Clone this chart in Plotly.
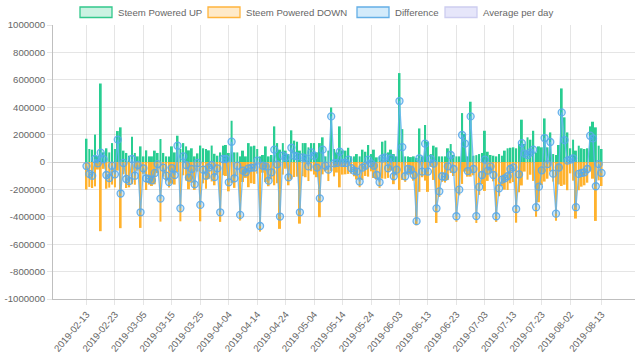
import pandas as pd
import plotly.graph_objects as go

start_date = "2019-02-13"
n_days = 182
dates = [d.strftime("%Y-%m-%d") for d in pd.date_range(start_date, periods=n_days, freq="D")]

steem_up = [
    170000, 95000, 90000, 200000, 45000, 573000, 70000, 100000, 70000, 138000,
    95000, 226000, 253000, 83000, 66000, 46000, 185000, 66000, 41000, 114000,
    41000, 85000, 41000, 41000, 83000, 66000, 168000, 66000, 41000, 41000,
    114000, 70000, 192000, 95000, 138000, 114000, 85000, 100000, 41000, 63000,
    120000, 100000, 95000, 85000, 120000, 60000, 46000, 70000, 119000, 124000,
    66000, 301000, 70000, 70000, 41000, 83000, 41000, 138000, 114000, 119000,
    95000, 41000, 51000, 114000, 41000, 51000, 260000, 138000, 90000, 138000,
    83000, 58000, 231000, 156000, 148000, 83000, 138000, 138000, 107000, 138000,
    138000, 70000, 138000, 180000, 41000, 83000, 398000, 95000, 70000, 260000,
    85000, 83000, 104000, 41000, 41000, 58000, 41000, 90000, 75000, 124000,
    58000, 90000, 34000, 41000, 148000, 156000, 70000, 90000, 58000, 41000,
    649000, 240000, 41000, 41000, 36000, 41000, 30000, 245000, 41000, 270000,
    148000, 58000, 119000, 107000, 41000, 41000, 41000, 100000, 131000, 51000,
    41000, 41000, 357000, 204000, 41000, 440000, 46000, 50000, 58000, 66000,
    228000, 75000, 51000, 46000, 41000, 58000, 46000, 83000, 100000, 104000,
    107000, 100000, 131000, 309000, 131000, 180000, 163000, 228000, 70000, 114000,
    107000, 318000, 107000, 216000, 58000, 51000, 124000, 537000, 326000, 216000,
    100000, 163000, 83000, 119000, 100000, 95000, 100000, 260000, 294000, 253000,
    119000, 95000,
]

steem_down = [
    -200000, -182000, -190000, -178000, -55000, -505000, -50000, -195000, -187000, -165000,
    -185000, -63000, -483000, -90000, -190000, -185000, -163000, -166000, -63000, -481000,
    -87000, -204000, -165000, -175000, -163000, -81000, -435000, -107000, -141000, -187000,
    -158000, -165000, -73000, -433000, -97000, -136000, -199000, -151000, -204000, -70000,
    -433000, -156000, -195000, -125000, -142000, -170000, -92000, -437000, -97000, -102000,
    -214000, -153000, -189000, -97000, -427000, -146000, -116000, -184000, -155000, -160000,
    -85000, -508000, -78000, -146000, -177000, -126000, -170000, -155000, -488000, -92000,
    -49000, -170000, -127000, -110000, -107000, -450000, -104000, -111000, -139000, -68000,
    -92000, -111000, -403000, -90000, -68000, -139000, -65000, -105000, -77000, -185000,
    -92000, -90000, -87000, -85000, -104000, -128000, -184000, -131000, -102000, -107000,
    -68000, -117000, -129000, -189000, -121000, -122000, -116000, -63000, -162000, -97000,
    -204000, -131000, -145000, -92000, -92000, -136000, -462000, -218000, -111000, -136000,
    -218000, -36000, -131000, -445000, -255000, -145000, -150000, -132000, -80000, -102000,
    -437000, -243000, -160000, -70000, -107000, -107000, -97000, -445000, -240000, -161000,
    -211000, -138000, -83000, -141000, -437000, -250000, -175000, -202000, -204000, -155000,
    -146000, -443000, -221000, -171000, -70000, -129000, -93000, -138000, -400000, -294000,
    -168000, -143000, -122000, -70000, -143000, -428000, -164000, -175000, -166000, -206000,
    -83000, -136000, -413000, -206000, -180000, -170000, -151000, -68000, -122000, -430000,
    -134000, -175000,
]

difference = [
    -30000, -87000, -100000, 22000, -10000, 68000, 20000, -95000, -117000, -27000,
    -90000, 163000, -230000, -7000, -124000, -139000, 22000, -100000, -22000, -367000,
    -46000, -119000, -124000, -134000, -80000, -15000, -267000, -41000, -100000, -146000,
    -44000, -95000, 119000, -338000, 41000, -22000, -114000, -51000, -163000, -7000,
    -313000, -56000, -100000, -40000, -22000, -110000, -46000, -367000, 22000, 22000,
    -148000, 148000, -119000, -27000, -386000, -63000, -75000, -46000, -41000, -41000,
    10000, -467000, -27000, -32000, -136000, -75000, 90000, -17000, -398000, 46000,
    34000, -112000, 104000, 46000, 41000, -367000, 34000, 27000, -32000, 70000,
    46000, -41000, -265000, 90000, -27000, -56000, 333000, -10000, -7000, 75000,
    -7000, -7000, 17000, -44000, -63000, -70000, -143000, -41000, -27000, 17000,
    -10000, -27000, -95000, -148000, 27000, 34000, -46000, 27000, -104000, -56000,
    445000, 109000, -104000, -51000, -56000, -95000, -432000, 27000, -70000, 134000,
    -70000, 22000, -12000, -338000, -214000, -104000, -109000, -32000, 51000, -51000,
    -396000, -202000, 197000, 134000, -66000, 333000, -51000, -395000, -182000, -95000,
    17000, -63000, -32000, -95000, -396000, -192000, -129000, -119000, -104000, -51000,
    -39000, -343000, -90000, 138000, 61000, 51000, 70000, 90000, -330000, -180000,
    -61000, 175000, -15000, 146000, -85000, -377000, -40000, 362000, 160000, 10000,
    17000, 27000, -330000, -87000, -80000, -75000, -51000, 192000, 172000, -177000,
    -15000, -80000,
]

tick_labels = [
    "2019-02-13", "2019-02-23", "2019-03-05", "2019-03-15", "2019-03-25",
    "2019-04-04", "2019-04-14", "2019-04-24", "2019-05-04", "2019-05-14",
    "2019-05-24", "2019-06-03", "2019-06-13", "2019-06-23", "2019-07-03",
    "2019-07-13", "2019-07-23", "2019-08-02", "2019-08-13",
]
y_ticks = [1000000, 800000, 600000, 400000, 200000, 0,
           -200000, -400000, -600000, -800000, -1000000]

legend_names = ["Steem Powered UP", "Steem Powered DOWN", "Difference", "Average per day"]
legend_fill = ["rgba(46,204,140,0.25)", "rgba(255,170,40,0.25)",
               "rgba(54,162,235,0.22)", "rgba(200,200,245,0.45)"]
legend_border = ["rgb(50,200,140)", "rgb(255,180,60)", "rgb(100,175,230)", "rgb(205,205,240)"]

FONT = "Liberation Sans, Arial, sans-serif"
FS = 9.6
GRID = "rgba(0,0,0,0.1)"

fig = go.Figure()
fig.add_trace(go.Bar(x=dates, y=steem_up, name=legend_names[0],
                     marker=dict(color="rgb(40,205,145)", line=dict(width=0))))
fig.add_trace(go.Bar(x=dates, y=steem_down, name=legend_names[1],
                     marker=dict(color="rgb(255,178,45)", line=dict(width=0))))
fig.add_trace(go.Scatter(x=dates, y=difference, name=legend_names[2], mode="lines+markers",
                         line=dict(color="rgba(100,180,240,0.85)", width=1.3),
                         marker=dict(symbol="circle", size=7,
                                     color="rgba(54,162,235,0.25)",
                                     line=dict(color="rgba(90,170,235,0.9)", width=1.3))))

# Chart.js-style legend (wide boxes)
W, H = 640, 361
L, R, T, B = 53, 5, 25, 62
pw, ph = W - L - R, H - T - B
def px(x):
    return (x - L) / pw
def py(y):
    return (H - B - y) / ph

box_x = [80, 208, 357, 445]
for i, name in enumerate(legend_names):
    fig.add_shape(type="rect", xref="paper", yref="paper",
                  x0=px(box_x[i]), x1=px(box_x[i] + 32), y0=py(17.5), y1=py(7),
                  fillcolor=legend_fill[i], line=dict(color=legend_border[i], width=1.3))
    fig.add_annotation(xref="paper", yref="paper", x=px(box_x[i] + 36), y=py(12.5),
                       text=name, showarrow=False, xanchor="left", yanchor="middle",
                       font=dict(family=FONT, size=FS, color="#666"))

fig.update_layout(
    width=W, height=H,
    margin=dict(l=L, r=R, t=T, b=B, autoexpand=False),
    barmode="relative", bargap=0.3,
    showlegend=False,
    plot_bgcolor="white", paper_bgcolor="white",
    font=dict(family=FONT, size=FS, color="#666"),
    xaxis=dict(type="category", tickmode="array", tickvals=tick_labels, ticktext=tick_labels,
               tickangle=-50, showgrid=True, gridcolor=GRID, gridwidth=1,
               ticks="outside", ticklen=5, tickcolor=GRID, automargin=False,
               showline=True, linecolor="rgba(0,0,0,0.25)", linewidth=1,
               tickfont=dict(family=FONT, size=FS, color="#666")),
    yaxis=dict(range=[-1000000, 1000000], tickmode="array", tickvals=y_ticks,
               ticktext=[str(v) for v in y_ticks], automargin=False,
               showgrid=True, gridcolor=GRID, gridwidth=1,
               zeroline=True, zerolinecolor="rgba(0,0,0,0.2)", zerolinewidth=1,
               ticks="outside", ticklen=5, tickcolor=GRID,
               showline=True, linecolor="rgba(0,0,0,0.25)", linewidth=1,
               tickfont=dict(family=FONT, size=FS, color="#666")),
)

fig.write_html("out.html",
               config={"displayModeBar": False},
               post_script="document.body.style.margin='0px';document.body.style.padding='0px';")
